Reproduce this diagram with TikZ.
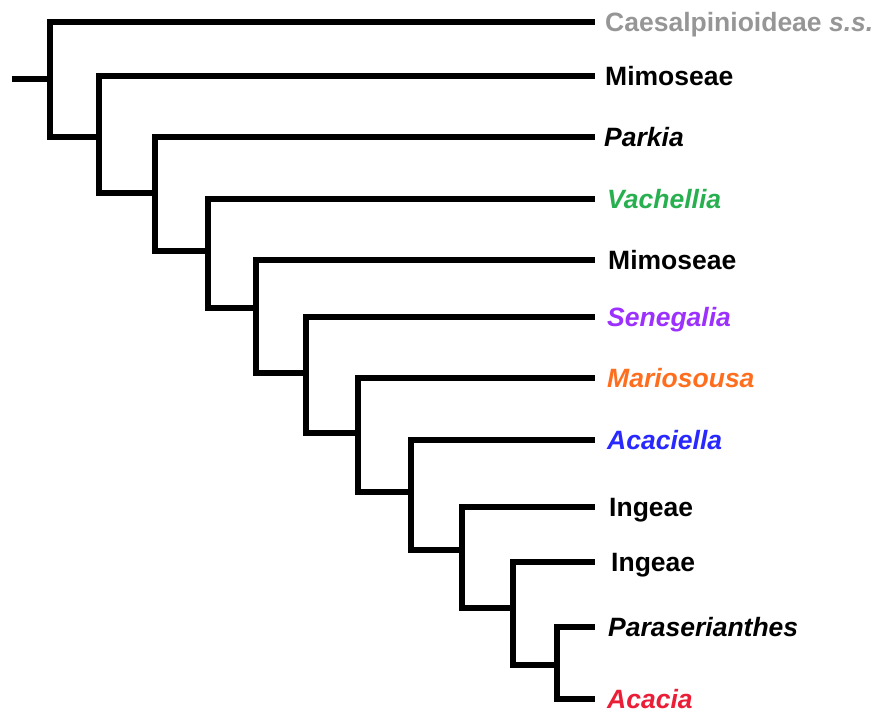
\documentclass[tikz,border=0pt]{standalone}
\usepackage{fontspec}
\setmainfont{Liberation Sans}
\usepackage{tikz}
\usetikzlibrary{positioning}

\definecolor{outgroup}{RGB}{150,150,150}
\definecolor{vachcol}{RGB}{40,176,80}
\definecolor{senecol}{RGB}{155,48,255}
\definecolor{mariocol}{RGB}{255,110,30}
\definecolor{acaccol}{RGB}{40,40,255}
\definecolor{acaciacol}{RGB}{235,30,55}

\begin{document}
\begin{tikzpicture}[
		x=1pt, y=-1pt,
		% --- ramas del arbol ---
		branch/.style={
			line width=5.5pt,
			line join=miter
		},
		% --- etiquetas de los taxones ---
		taxon/.style={
			anchor=west,
			inner xsep=10pt,
			inner ysep=0pt,
			text height=19pt,
			text depth=0pt,
			font=\fontsize{26.5}{30}\selectfont\bfseries
		},
		genus/.style={
			taxon,
			inner xsep=12pt,
			font=\fontsize{26.5}{30}\selectfont\bfseries\itshape
		}
		]
		
		\useasboundingbox (0,0) rectangle (877,713);
		
		% --- HOJAS ---
		\node (caes)  [taxon, text=outgroup] at (595,22) {Caesalpinioideae \textit{s.s.}};
		\node (mimo1) [taxon] at (595,76) {Mimoseae};
		\node (park)  [genus, inner xsep=9pt] at (595,137) {Parkia};
		\node (vach)  [genus, text=vachcol] at (595,199) {Vachellia};
		\node (mimo2) [taxon, inner xsep=13pt] at (595,260) {Mimoseae};
		\node (sene)  [genus, text=senecol] at (595,317) {Senegalia};
		\node (mario) [genus, text=mariocol] at (595,378) {Mariosousa};
		\node (acel)  [genus, text=acaccol] at (595,440) {Acaciella};
		\node (inge1) [taxon, inner xsep=14pt] at (595,507) {Ingeae};
		\node (inge2) [taxon, inner xsep=16pt] at (595,562) {Ingeae};
		\node (para)  [genus, inner xsep=13pt] at (595,627) {Paraserianthes};
		\node (acac)  [genus, text=acaciacol] at (595,699) {Acacia};
		
		% --- NODOS INTERNOS ---
		\coordinate (root) at (12,79);
		\coordinate (n1)  at (50,79);
		\coordinate (n2)  at (99,137);
		\coordinate (n3)  at (155,193);
		\coordinate (n4)  at (208,251);
		\coordinate (n5)  at (256,308);
		\coordinate (n6)  at (306,373);
		\coordinate (n7)  at (358,433);
		\coordinate (n8)  at (411,492);
		\coordinate (n9)  at (462,550);
		\coordinate (n10) at (513,608);
		\coordinate (n11) at (557,665);
		
		% --- RAMAS ---
		\draw [branch] (root) -- (n1);
		\draw [branch] (n1) |- (caes.west);
		\draw [branch] (n1) |- (n2);
		\draw [branch] (n2) |- (mimo1.west);
		\draw [branch] (n2) |- (n3);
		\draw [branch] (n3) |- (park.west);
		\draw [branch] (n3) |- (n4);
		\draw [branch] (n4) |- (vach.west);
		\draw [branch] (n4) |- (n5);
		\draw [branch] (n5) |- (mimo2.west);
		\draw [branch] (n5) |- (n6);
		\draw [branch] (n6) |- (sene.west);
		\draw [branch] (n6) |- (n7);
		\draw [branch] (n7) |- (mario.west);
		\draw [branch] (n7) |- (n8);
		\draw [branch] (n8) |- (acel.west);
		\draw [branch] (n8) |- (n9);
		\draw [branch] (n9) |- (inge1.west);
		\draw [branch] (n9) |- (n10);
		\draw [branch] (n10) |- (inge2.west);
		\draw [branch] (n10) |- (n11);
		\draw [branch] (n11) |- (para.west);
		\draw [branch] (n11) |- (acac.west);
		
	\end{tikzpicture}
\end{document}
